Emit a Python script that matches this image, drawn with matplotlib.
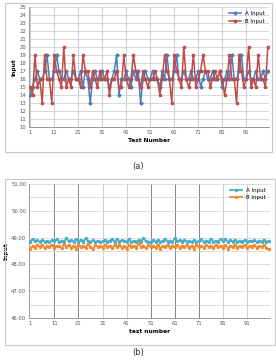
import matplotlib
matplotlib.use('Agg')
import matplotlib.pyplot as plt
from matplotlib.patches import Rectangle
import numpy as np

# test numbers shared by both panels
testNumber = list(range(1, 101))

# panel (a): integer inputs
aInputA = [14, 15, 16, 17, 16, 16, 17, 19, 16, 16, 17, 19, 17, 16, 16, 17, 16, 16, 17, 16,
           16, 17, 15, 17, 16, 13, 16, 17, 16, 16, 17, 16, 16, 15, 16, 17, 19, 14, 16, 16,
           17, 16, 15, 17, 16, 17, 13, 16, 17, 16, 16, 17, 16, 16, 15, 17, 16, 19, 16, 16,
           17, 19, 16, 16, 17, 16, 16, 17, 16, 16, 17, 15, 16, 17, 16, 16, 17, 16, 16, 17,
           15, 16, 17, 16, 19, 16, 16, 17, 19, 16, 16, 17, 16, 16, 17, 16, 16, 17, 16, 17]
aInputB = [15, 14, 19, 15, 16, 13, 19, 16, 16, 13, 19, 17, 16, 15, 20, 15, 16, 15, 19, 16,
           16, 15, 19, 17, 17, 15, 17, 16, 15, 17, 16, 16, 17, 14, 16, 16, 17, 15, 15, 19,
           16, 15, 16, 19, 17, 16, 15, 17, 16, 15, 16, 16, 17, 16, 14, 16, 19, 17, 16, 13,
           19, 17, 16, 15, 20, 16, 15, 16, 19, 15, 16, 17, 19, 17, 17, 15, 16, 17, 16, 17,
           16, 14, 16, 19, 16, 16, 13, 19, 17, 15, 16, 20, 15, 16, 15, 19, 16, 16, 15, 20]

# panel (b): decimal inputs
bInputA = [48.84, 48.95, 48.86, 48.90, 48.84, 48.92, 48.85, 48.88, 48.83, 48.91,
           48.86, 48.93, 48.84, 48.89, 48.85, 48.98, 48.86, 48.90, 48.84, 48.96,
           48.85, 48.92, 48.83, 48.97, 48.86, 48.84, 48.90, 48.85, 48.88, 48.84,
           48.86, 48.92, 48.84, 48.89, 48.93, 48.85, 48.96, 48.84, 48.90, 48.86,
           48.85, 48.93, 48.84, 48.88, 48.85, 48.91, 48.84, 48.99, 48.86, 48.85,
           48.84, 48.90, 48.85, 48.92, 48.84, 48.88, 48.95, 48.85, 48.89, 48.84,
           48.97, 48.86, 48.90, 48.84, 48.92, 48.85, 48.88, 48.84, 48.90, 48.85,
           48.86, 48.93, 48.84, 48.89, 48.85, 48.96, 48.84, 48.88, 48.85, 48.95,
           48.86, 48.93, 48.84, 48.90, 48.85, 48.92, 48.84, 48.89, 48.85, 48.91,
           48.84, 48.88, 48.86, 48.90, 48.84, 48.89, 48.85, 48.92, 48.84, 48.88]
bInputB = [48.58, 48.70, 48.62, 48.74, 48.66, 48.72, 48.60, 48.70, 48.66, 48.74,
           48.62, 48.70, 48.68, 48.60, 48.76, 48.66, 48.72, 48.62, 48.70, 48.58,
           48.74, 48.66, 48.70, 48.62, 48.76, 48.66, 48.56, 48.72, 48.66, 48.70,
           48.62, 48.74, 48.66, 48.70, 48.60, 48.72, 48.66, 48.74, 48.62, 48.70,
           48.58, 48.72, 48.66, 48.70, 48.62, 48.78, 48.66, 48.70, 48.60, 48.72,
           48.66, 48.70, 48.62, 48.74, 48.58, 48.70, 48.66, 48.72, 48.62, 48.70,
           48.66, 48.74, 48.60, 48.70, 48.66, 48.72, 48.62, 48.70, 48.58, 48.74,
           48.66, 48.70, 48.62, 48.72, 48.66, 48.70, 48.60, 48.74, 48.66, 48.70,
           48.62, 48.72, 48.58, 48.70, 48.66, 48.74, 48.62, 48.70, 48.66, 48.72,
           48.60, 48.70, 48.66, 48.74, 48.62, 48.70, 48.66, 48.72, 48.62, 48.56]

xTicks = list(range(1, 101, 10))

fig = plt.figure(figsize=(2.76, 3.60), dpi=100)
fig.patch.set_facecolor('white')

# outer chart-area boxes
for (x0, y0, w, h) in [(5, 3, 267, 149), (5, 179, 270, 166)]:
    fig.patches.append(Rectangle((x0 / 276, 1 - (y0 + h) / 360), w / 276, h / 360,
                                 transform=fig.transFigure, fill=False,
                                 edgecolor='#c8c8c8', linewidth=0.8))

tickFont = 3.8

# ---- panel (a)
ax1 = fig.add_axes([29 / 276, 1 - 127 / 360, 240 / 276, 120 / 360])
ax1.set_xlim(0.5, 100.5)
ax1.set_ylim(10, 25)
ax1.set_yticks(range(10, 26))
ax1.set_xticks(xTicks)
ax1.grid(True, axis='y', color='#c9c9c9', linewidth=0.5)
ax1.grid(True, axis='x', color='#b8c6dc', linewidth=0.6)
ax1.plot(testNumber, aInputA, color='#4a7ebb', linewidth=1.1, marker='D',
         markersize=1.6, label='A Input', zorder=3)
ax1.plot(testNumber, aInputB, color='#be4b48', linewidth=1.1, marker='s',
         markersize=2.0, label='B Input', zorder=4)
ax1.set_xlabel('Test Number', fontsize=4.2, fontweight='bold', labelpad=2)
ax1.set_ylabel('Input', fontsize=4.2, fontweight='bold', labelpad=2)
ax1.legend(loc='upper right', fontsize=4, frameon=False, handlelength=2.2,
           borderaxespad=0.3, labelspacing=0.5)

# ---- panel (b)
ax2 = fig.add_axes([29 / 276, 1 - 318 / 360, 241 / 276, 134 / 360])
ax2.set_xlim(0.5, 100.5)
ax2.set_ylim(46, 51)
ax2.set_yticks(np.arange(46, 51.01, 1.0))
ax2.set_yticks(np.arange(46.5, 51, 1.0), minor=True)
ax2.set_yticklabels([f'{v:.2f}' for v in np.arange(46, 51.01, 1.0)])
ax2.set_xticks(xTicks)
ax2.grid(True, axis='y', which='both', color='#cfcfcf', linewidth=0.5)
ax2.tick_params(axis='y', which='minor', length=0)
for t in xTicks[1:]:
    c = '#707070' if t in (11, 21, 51, 61, 71) else '#c8c8c8'
    ax2.axvline(t, color=c, linewidth=0.6, zorder=0)
ax2.plot(testNumber, bInputA, color='#4bacc6', linewidth=1.3, marker='o',
         markersize=1.4, label='A Input', zorder=3)
ax2.plot(testNumber, bInputB, color='#f08a2c', linewidth=1.3, marker='o',
         markersize=1.4, label='B Input', zorder=3)
ax2.set_xlabel('test number', fontsize=4.2, fontweight='bold', labelpad=2)
ax2.set_ylabel('Input', fontsize=4.2, fontweight='bold', labelpad=2)
ax2.legend(loc='upper right', fontsize=4, frameon=False, handlelength=2.2,
           borderaxespad=0.3, labelspacing=0.3)

for ax in (ax1, ax2):
    ax.tick_params(labelsize=tickFont, length=0, pad=2, colors='#555555')
    for side in ('top', 'right'):
        ax.spines[side].set_visible(False)
    ax.spines['left'].set_color('#888888')
    ax.spines['bottom'].set_color('#888888')
    ax.spines['left'].set_linewidth(0.6)
    ax.spines['bottom'].set_linewidth(0.6)

fig.text(138 / 276, 1 - 167 / 360, '(a)', ha='center', va='center', fontsize=6, color='#333333')
fig.text(138 / 276, 1 - 353 / 360, '(b)', ha='center', va='center', fontsize=6, color='#333333')

fig.savefig('out.png', dpi=100, facecolor='white')
